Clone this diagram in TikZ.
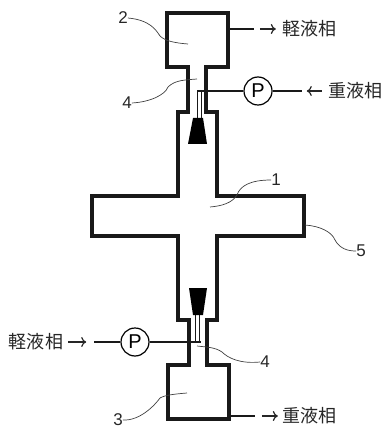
\documentclass[tikz,border=0pt]{standalone}
\usepackage{fontspec}
\setmainfont{Liberation Sans}
\newfontfamily\cjk{Noto Sans CJK JP}
\usetikzlibrary{positioning}
\usetikzlibrary{arrows.meta}
\tikzset{
  wall/.style={line width=3.8pt, line join=miter, color=black!90},
  pipe/.style={line width=2.4pt, color=black!90},
  thinpipe/.style={line width=1.3pt, double=white, double distance=2.6pt, color=black!90},
  flow/.style={-{To[length=5pt, width=10pt]}, line width=1.2pt, color=black!85},
  lead/.style={line width=0.7pt, color=black!75},
  pump/.style={circle, draw, line width=1.2pt, fill=white, inner sep=0pt, minimum size=28pt, font=\fontsize{20}{20}\selectfont},
  phase/.style={inner sep=0pt, font=\cjk\fontsize{18}{18}\selectfont, color=black!85},
  num/.style={inner sep=0pt, font=\fontsize{17}{17}\selectfont, color=black!85}
}
\begin{document}
\begin{tikzpicture}[x=1pt, y=-1pt]
    \useasboundingbox (0,0) rectangle (386,430);
    % vessel
    \draw[wall] (167,13) -- (228,13) -- (228,67) -- (206,67) -- (206,112) -- (217,112)
        -- (217,196) -- (304,196) -- (304,236) -- (217,236) -- (217,320) -- (207,320)
        -- (207,365) -- (229,365) -- (229,419) -- (168,419) -- (168,365) -- (189,365)
        -- (189,320) -- (178,320) -- (178,236) -- (92,236) -- (92,196) -- (178,196)
        -- (178,112) -- (188,112) -- (188,67) -- (167,67) -- cycle;
    % I upper nozzle
    \node[pump] (pumpA) at (258,91) {P};
    \coordinate (bendA) at (196.5,91);
    \coordinate (topA) at (199.5,91);
    \coordinate (tipA) at (199.5,120);
    \coordinate (endA) at (302,91);
    \node[phase] (heavyIn) at (355,91) {重液相};
    \coordinate[left=6pt of heavyIn] (arrA1);
    \coordinate[left=15pt of arrA1] (arrA2);
    \draw[thinpipe] (topA) -- (tipA);
    \draw[pipe] (pumpA) -- (bendA);
    \draw[pipe] (pumpA) -- (endA);
    \draw[flow] (arrA1) -- (arrA2);
    \fill[black] (193,118) -- (203,118) -- (207,144) -- (188,144) -- cycle;
    % II lower nozzle
    \node[pump] (pumpB) at (135,342) {P};
    \coordinate (bendB) at (200.5,342);
    \coordinate (topB) at (197.5,342);
    \coordinate (tipB) at (197.5,313);
    \coordinate (endB) at (94,342);
    \node[phase] (lightIn) at (36,342) {軽液相};
    \coordinate[right=5pt of lightIn] (arrB1);
    \coordinate[right=18pt of arrB1] (arrB2);
    \draw[thinpipe] (topB) -- (tipB);
    \draw[pipe] (pumpB) -- (bendB);
    \draw[pipe] (pumpB) -- (endB);
    \draw[flow] (arrB1) -- (arrB2);
    \fill[black] (189,288) -- (207,288) -- (203,315) -- (193,315) -- cycle;
    % III outlets
    \coordinate (outA) at (229,29);
    \coordinate (stubA) at (254,29);
    \node[phase] (lightOut) at (309,29) {軽液相};
    \coordinate[left=6pt of lightOut] (arrC2);
    \coordinate[left=16pt of arrC2] (arrC1);
    \draw[pipe] (outA) -- (stubA);
    \draw[flow] (arrC1) -- (arrC2);
    \coordinate (outB) at (229,416);
    \coordinate (stubB) at (255,416);
    \node[phase] (heavyOut) at (309,416) {重液相};
    \coordinate[left=4pt of heavyOut] (arrD2);
    \coordinate[left=16pt of arrD2] (arrD1);
    \draw[pipe] (outB) -- (stubB);
    \draw[flow] (arrD1) -- (arrD2);
    % IV numbers
    \node[num] (n1) at (276,180) {1};
    \node[num] (n2) at (123,18) {2};
    \node[num] (n3) at (118,420) {3};
    \node[num] (n4a) at (127,103) {4};
    \node[num] (n4b) at (265,362) {4};
    \node[num] (n5) at (361,251) {5};
    \coordinate (in1) at (210,207);
    \coordinate (in2) at (188,44);
    \coordinate (in3) at (187,393);
    \coordinate (in4a) at (197,79);
    \coordinate (in4b) at (197,346);
    \coordinate (in5) at (305,225);
    \draw[lead] (n1.west) .. controls (250,180) and (240,186) .. (237,195) .. controls (232,203) and (222,206) .. (in1);
    \draw[lead] (n2.east) .. controls (150,20) and (156,30) .. (160,36) .. controls (165,41) and (175,43) .. (in2);
    \draw[lead] (n3.east) .. controls (140,421) and (155,405) .. (160,398) .. controls (165,395) and (175,394) .. (in3);
    \draw[lead] (n4a.east) .. controls (150,102) and (165,95) .. (168,87) .. controls (175,80) and (185,80) .. (in4a);
    \draw[lead] (n4b.west) .. controls (240,364) and (228,358) .. (222,352) .. controls (215,347) and (205,347) .. (in4b);
    \draw[lead] (in5) .. controls (320,226) and (332,232) .. (335,240) .. controls (340,249) and (348,251) .. (n5.west);
\end{tikzpicture}
\end{document}
